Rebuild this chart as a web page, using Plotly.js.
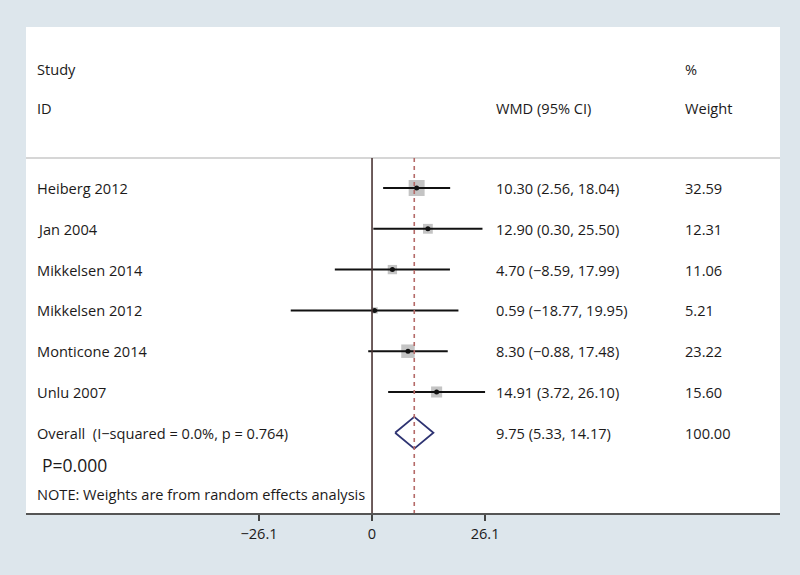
<!DOCTYPE html>
<html>
<head>
<meta charset="utf-8">
<script src="https://cdn.plot.ly/plotly-3.0.1.min.js"></script>
<style>html,body{margin:0;padding:0;background:#dde6ec;}#chart{width:800px;height:575px;}</style>
</head>
<body>
<div id="chart"></div>
<script>
// ---- data ----
const studies = ["Heiberg 2012", "Jan 2004", "Mikkelsen 2014", "Mikkelsen 2012", "Monticone 2014", "Unlu 2007"];
const est = [10.30, 12.90, 4.70, 0.59, 8.30, 14.91];
const lo = [2.56, 0.30, -8.59, -18.77, -0.88, 3.72];
const hi = [18.04, 25.50, 17.99, 19.95, 17.48, 26.10];
const weight = [32.59, 12.31, 11.06, 5.21, 23.22, 15.60];
const overallLabel = "Overall  (I\u2212squared = 0.0%, p = 0.764)";
const overallEst = 9.75, overallLo = 5.33, overallHi = 14.17, overallWeight = 100.00;
const pText = "P=0.000";
const noteText = "NOTE: Weights are from random effects analysis";
const tickVals = [-26.1, 0, 26.1];

// ---- helpers ----
const fmt = v => (v < 0 ? "\u2212" : "") + Math.abs(v).toFixed(2);
const ciText = (e, l, h) => fmt(e) + " (" + fmt(l) + ", " + fmt(h) + ")";
const rows = studies.map((s, i) => i + 1);
const overallRow = studies.length + 1;

const FONT = "'Open Sans', Lato, sans-serif";
const TXT = "#1c1a1a";
const FS = 14.6;

// CI lines
const lx = [], ly = [];
for (let i = 0; i < studies.length; i++) { lx.push(lo[i], hi[i], null); ly.push(rows[i], rows[i], null); }

const traces = [
  {x: est, y: rows, type: "scatter", mode: "markers",
   marker: {symbol: "square", color: "#ababab", size: weight.map(w => 2.8 * Math.sqrt(w)), line: {width: 0}},
   hoverinfo: "skip"},
  {x: lx, y: ly, type: "scatter", mode: "lines", line: {color: "#111", width: 2}, hoverinfo: "skip"},
  {x: est, y: rows, type: "scatter", mode: "markers",
   marker: {symbol: "circle", color: "#111", size: 5}, hoverinfo: "skip"},
  {x: [overallLo, overallEst, overallHi, overallEst, overallLo],
   y: [overallRow, overallRow - 0.39, overallRow, overallRow + 0.39, overallRow],
   type: "scatter", mode: "lines", line: {color: "#2e3372", width: 1.8}, hoverinfo: "skip"}
];

const ann = [];
const addText = (x, y, t, size) => ann.push({xref: "paper", yref: "y", x: x, y: y, text: t, showarrow: false,
  xanchor: "left", yanchor: "middle", font: {family: FONT, size: size || FS, color: TXT}});

addText(0.012, -1.92, "Study");
addText(0.012, -0.96, "ID");
addText(0.6207, -0.96, "WMD (95% CI)");
addText(0.871, -1.92, "%");
addText(0.871, -0.96, "Weight");
studies.forEach((s, i) => {
  addText(0.012, rows[i], s);
  addText(0.6207, rows[i], ciText(est[i], lo[i], hi[i]));
  addText(0.871, rows[i], weight[i].toFixed(2));
});
addText(0.012, overallRow, overallLabel);
addText(0.6207, overallRow, ciText(overallEst, overallLo, overallHi));
addText(0.871, overallRow, overallWeight.toFixed(2));
addText(0.018, overallRow + 0.8, pText, 17.5);
addText(0.012, overallRow + 1.49, noteText);

const shapes = [
  {type: "line", xref: "paper", yref: "y", x0: 0, x1: 1, y0: 0.265, y1: 0.265, line: {color: "#c9c9c9", width: 1.5}},
  {type: "line", xref: "x", yref: "y", x0: 0, x1: 0, y0: 0.265, y1: 8.966, line: {color: "#4a3434", width: 1.6}},
  {type: "line", xref: "x", yref: "y", x0: overallEst, x1: overallEst, y0: 0.265, y1: 8.966, line: {color: "#b56a68", width: 1.6, dash: "4px,4px"}}
];

const layout = {
  width: 800, height: 575,
  margin: {l: 26, r: 20, t: 27, b: 62},
  paper_bgcolor: "#dde6ec", plot_bgcolor: "#ffffff",
  showlegend: false,
  xaxis: {range: [-79.9, 94.2], showgrid: false, zeroline: false, showline: true, linecolor: "#555", linewidth: 2,
    ticks: "outside", ticklen: 6, tickwidth: 1.5, tickcolor: "#444",
    tickvals: tickVals, ticktext: tickVals.map(v => v === 0 ? "0" : (v < 0 ? "\u2212" : "") + Math.abs(v).toFixed(1)),
    tickfont: {family: FONT, size: FS, color: TXT}, fixedrange: true},
  yaxis: {range: [8.966, -2.946], visible: false, showgrid: false, zeroline: false, fixedrange: true},
  annotations: ann, shapes: shapes
};

Plotly.newPlot("chart", traces, layout, {displayModeBar: false, staticPlot: true});
</script>
</body>
</html>
